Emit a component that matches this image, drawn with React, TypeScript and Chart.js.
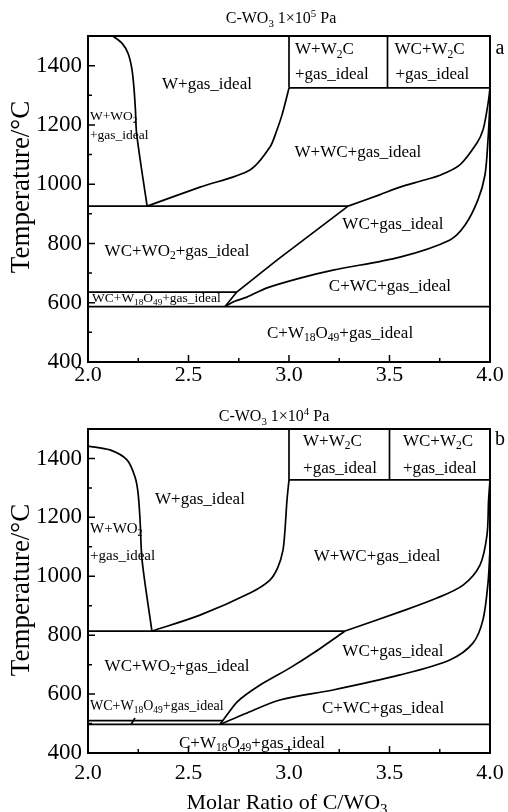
import React, { useEffect, useRef } from "react";
import { Chart, registerables } from "chart.js";
Chart.register(...registerables);

// ---------- axis ticks ----------
const X_TICKS = [2.0, 2.5, 3.0, 3.5, 4.0];
const X_MINOR = [2.25, 2.75, 3.25, 3.75];
const Y_TICKS = [400, 600, 800, 1000, 1200, 1400];
const Y_MINOR = [500, 700, 900, 1100, 1300];

// ---------- chart a (1x10^5 Pa) boundaries ----------
const A_WO2_X = [2.124, 2.17, 2.2, 2.218, 2.228, 2.236, 2.242, 2.294];
const A_WO2_T = [1500, 1475, 1440, 1390, 1330, 1250, 1170, 926];
const A_H926_X = [2.0, 3.294];
const A_H926_T = [926, 926];
const A_WGAS_X = [2.294, 2.557, 2.806, 2.905, 2.94, 2.965, 2.985, 3.0];
const A_WGAS_T = [926, 990, 1048, 1125, 1183, 1233, 1284, 1325];
const A_V30_X = [3.0, 3.0];
const A_V30_T = [1325, 1500];
const A_V35_X = [3.49, 3.49];
const A_V35_T = [1325, 1500];
const A_H1325_X = [3.0, 4.0];
const A_H1325_T = [1325, 1325];
const A_WWC_X = [3.294, 3.45, 3.552, 3.652, 3.751, 3.85, 3.935, 3.965, 3.985, 3.995, 4.0];
const A_WWC_T = [926, 964, 990, 1010, 1030, 1065, 1139, 1183, 1250, 1295, 1325];
const A_H587_X = [2.0, 4.0];
const A_H587_T = [587, 587];
const A_H636_X = [2.0, 2.74];
const A_H636_T = [636, 636];
const A_WCG_X = [2.682, 2.74, 2.94, 3.294];
const A_WCG_T = [587, 636, 744, 926];
const A_CWC_X = [2.682, 2.73, 2.791, 2.891, 3.055, 3.219, 3.552, 3.801, 3.876, 3.94, 3.975, 3.99, 3.998, 4.0];
const A_CWC_T = [587, 605, 619, 650, 683, 710, 754, 812, 862, 947, 1031, 1149, 1250, 1300];

// ---------- chart b (1x10^4 Pa) boundaries ----------
const B_WO2_X = [2.0, 2.109, 2.194, 2.234, 2.249, 2.259, 2.269, 2.318];
const B_WO2_T = [1442, 1429, 1395, 1337, 1283, 1191, 1055, 814];
const B_H814_X = [2.0, 3.279];
const B_H814_T = [814, 814];
const B_WGAS_X = [2.318, 2.557, 2.806, 2.905, 2.945, 2.97, 2.98, 2.99, 3.0];
const B_WGAS_T = [814, 868, 943, 987, 1031, 1089, 1157, 1259, 1327];
const B_V30_X = [3.0, 3.0];
const B_V30_T = [1327, 1500];
const B_V35_X = [3.5, 3.5];
const B_V35_T = [1327, 1500];
const B_H1327_X = [3.0, 4.0];
const B_H1327_T = [1327, 1327];
const B_WWC_X = [3.279, 3.552, 3.736, 3.866, 3.95, 3.985, 3.993, 4.0];
const B_WWC_T = [814, 879, 926, 970, 1038, 1140, 1259, 1327];
const B_H497_X = [2.0, 4.0];
const B_H497_T = [497, 497];
const B_H510_X = [2.0, 2.67];
const B_H510_T = [510, 510];
const B_WCG_X = [2.657, 2.741, 2.856, 3.005, 3.129, 3.279];
const B_WCG_T = [497, 573, 631, 689, 743, 814];
const B_CWC_X = [2.657, 2.791, 2.955, 3.219, 3.552, 3.8, 3.915, 3.965, 3.99, 4.0];
const B_CWC_T = [497, 536, 580, 614, 665, 716, 773, 852, 977, 1090];
const B_LEAD_X = [2.214, 2.234];
const B_LEAD_T = [497, 519];

// ---------- region labels ----------
type Lab = { t: string; x: number; y: number; a: "left" | "center"; s: number };
const A_LABELS: Lab[] = [
  { t: "W+gas_ideal", x: 2.592, y: 1341, a: "center", s: 17 },
  { t: "W+W_{2}C", x: 3.03, y: 1459, a: "left", s: 17 },
  { t: "+gas_ideal", x: 3.03, y: 1375, a: "left", s: 17 },
  { t: "WC+W_{2}C", x: 3.525, y: 1459, a: "left", s: 17 },
  { t: "+gas_ideal", x: 3.53, y: 1375, a: "left", s: 17 },
  { t: "W+WO_{2}", x: 2.01, y: 1230, a: "left", s: 13.5 },
  { t: "+gas_ideal", x: 2.01, y: 1166, a: "left", s: 13.5 },
  { t: "W+WC+gas_ideal", x: 3.343, y: 1109, a: "center", s: 17 },
  { t: "WC+gas_ideal", x: 3.517, y: 869, a: "center", s: 17 },
  { t: "WC+WO_{2}+gas_ideal", x: 2.443, y: 778, a: "center", s: 17 },
  { t: "C+WC+gas_ideal", x: 3.502, y: 660, a: "center", s: 17 },
  { t: "WC+W_{18}O_{49}+gas_ideal", x: 2.02, y: 616, a: "left", s: 13.5 },
  { t: "C+W_{18}O_{49}+gas_ideal", x: 3.254, y: 501, a: "center", s: 17 },
];
const B_LABELS: Lab[] = [
  { t: "W+gas_ideal", x: 2.557, y: 1266, a: "center", s: 17 },
  { t: "W+W_{2}C", x: 3.07, y: 1463, a: "left", s: 17 },
  { t: "+gas_ideal", x: 3.07, y: 1368, a: "left", s: 17 },
  { t: "WC+W_{2}C", x: 3.567, y: 1463, a: "left", s: 17 },
  { t: "+gas_ideal", x: 3.567, y: 1368, a: "left", s: 17 },
  { t: "W+WO_{2}", x: 2.01, y: 1164, a: "left", s: 15 },
  { t: "+gas_ideal", x: 2.01, y: 1072, a: "left", s: 15 },
  { t: "W+WC+gas_ideal", x: 3.438, y: 1072, a: "center", s: 17 },
  { t: "WC+gas_ideal", x: 3.517, y: 750, a: "center", s: 17 },
  { t: "WC+WO_{2}+gas_ideal", x: 2.443, y: 699, a: "center", s: 17 },
  { t: "C+WC+gas_ideal", x: 3.468, y: 556, a: "center", s: 17 },
  { t: "WC+W_{18}O_{49}+gas_ideal", x: 2.01, y: 563, a: "left", s: 14 },
  { t: "C+W_{18}O_{49}+gas_ideal", x: 2.816, y: 437, a: "center", s: 17 },
];

const Y_TITLE = "Temperature/°C";
const FAM = "'Liberation Serif', 'Times New Roman', serif";

type Line = { x: number[]; t: number[]; k: number };
type Spec = {
  lines: Line[];
  labels: Lab[];
  title: string;
  titleX: number;
  titleY: number;
  corner: string;
  cornerY: number;
  yTitleY: number;
  xTitle?: string;
  xTitleY?: number;
  padTop: number;
  xAxisH: number;
  xTickPad: number;
};

const SPEC_A: Spec = {
  lines: [
    { x: A_WO2_X, t: A_WO2_T, k: 0.3 },
    { x: A_H926_X, t: A_H926_T, k: 0 },
    { x: A_WGAS_X, t: A_WGAS_T, k: 0.3 },
    { x: A_V30_X, t: A_V30_T, k: 0 },
    { x: A_V35_X, t: A_V35_T, k: 0 },
    { x: A_H1325_X, t: A_H1325_T, k: 0 },
    { x: A_WWC_X, t: A_WWC_T, k: 0.3 },
    { x: A_H587_X, t: A_H587_T, k: 0 },
    { x: A_H636_X, t: A_H636_T, k: 0 },
    { x: A_WCG_X, t: A_WCG_T, k: 0 },
    { x: A_CWC_X, t: A_CWC_T, k: 0.3 },
  ],
  labels: A_LABELS,
  title: "C-WO_{3} 1×10^{5} Pa",
  titleX: 281,
  titleY: 18,
  corner: "a",
  cornerY: 47,
  yTitleY: 187,
  padTop: 36,
  xAxisH: 38,
  xTickPad: 0,
};

const SPEC_B: Spec = {
  lines: [
    { x: B_WO2_X, t: B_WO2_T, k: 0.3 },
    { x: B_H814_X, t: B_H814_T, k: 0 },
    { x: B_WGAS_X, t: B_WGAS_T, k: 0.3 },
    { x: B_V30_X, t: B_V30_T, k: 0 },
    { x: B_V35_X, t: B_V35_T, k: 0 },
    { x: B_H1327_X, t: B_H1327_T, k: 0 },
    { x: B_WWC_X, t: B_WWC_T, k: 0.3 },
    { x: B_H497_X, t: B_H497_T, k: 0 },
    { x: B_H510_X, t: B_H510_T, k: 0 },
    { x: B_WCG_X, t: B_WCG_T, k: 0.2 },
    { x: B_CWC_X, t: B_CWC_T, k: 0.3 },
    { x: B_LEAD_X, t: B_LEAD_T, k: 0 },
  ],
  labels: B_LABELS,
  title: "C-WO_{3} 1×10^{4} Pa",
  titleX: 274,
  titleY: 16,
  corner: "b",
  cornerY: 38,
  yTitleY: 190,
  xTitle: "Molar Ratio of C/WO_{3}",
  xTitleY: 402,
  padTop: 29,
  xAxisH: 59,
  xTickPad: 7,
};

function parseRich(s: string) {
  const out: { t: string; m: number }[] = [];
  let i = 0;
  let buf = "";
  while (i < s.length) {
    if ((s[i] === "_" || s[i] === "^") && s[i + 1] === "{") {
      if (buf) {
        out.push({ t: buf, m: 0 });
        buf = "";
      }
      const end = s.indexOf("}", i);
      out.push({ t: s.slice(i + 2, end), m: s[i] === "_" ? 1 : 2 });
      i = end + 1;
    } else {
      buf += s[i];
      i++;
    }
  }
  if (buf) out.push({ t: buf, m: 0 });
  return out;
}

function drawRich(ctx: CanvasRenderingContext2D, s: string, x: number, y: number, size: number, align: string) {
  const segs = parseRich(s);
  const fontFor = (m: number) => `${m ? size * 0.68 : size}px ${FAM}`;
  let w = 0;
  segs.forEach((sg) => {
    ctx.font = fontFor(sg.m);
    w += ctx.measureText(sg.t).width;
  });
  let cx = align === "center" ? x - w / 2 : align === "right" ? x - w : x;
  ctx.textAlign = "left";
  ctx.textBaseline = "alphabetic";
  ctx.fillStyle = "#000";
  const base = y + size * 0.33;
  segs.forEach((sg) => {
    ctx.font = fontFor(sg.m);
    const dy = sg.m === 1 ? size * 0.22 : sg.m === 2 ? -size * 0.38 : 0;
    ctx.fillText(sg.t, cx, base + dy);
    cx += ctx.measureText(sg.t).width;
  });
}

function decor(spec: Spec) {
  return {
    id: "decor" + spec.corner,
    afterDatasetsDraw(chart: any) {
      const ctx: CanvasRenderingContext2D = chart.ctx;
      const a = chart.chartArea;
      const xs = chart.scales.x;
      const ys = chart.scales.y;
      ctx.save();
      ctx.strokeStyle = "#000";
      ctx.lineWidth = 2;
      ctx.strokeRect(a.left, a.top, a.right - a.left, a.bottom - a.top);
      ctx.lineWidth = 1.5;
      ctx.beginPath();
      X_TICKS.forEach((v) => {
        const px = xs.getPixelForValue(v);
        ctx.moveTo(px, a.bottom);
        ctx.lineTo(px, a.bottom - 7);
      });
      X_MINOR.forEach((v) => {
        const px = xs.getPixelForValue(v);
        ctx.moveTo(px, a.bottom);
        ctx.lineTo(px, a.bottom - 4);
      });
      Y_TICKS.forEach((v) => {
        const py = ys.getPixelForValue(v);
        ctx.moveTo(a.left, py);
        ctx.lineTo(a.left + 7, py);
      });
      Y_MINOR.forEach((v) => {
        const py = ys.getPixelForValue(v);
        ctx.moveTo(a.left, py);
        ctx.lineTo(a.left + 4, py);
      });
      ctx.stroke();
      spec.labels.forEach((l) => {
        drawRich(ctx, l.t, xs.getPixelForValue(l.x), ys.getPixelForValue(l.y), l.s, l.a);
      });
      drawRich(ctx, spec.title, spec.titleX, spec.titleY, 16, "center");
      drawRich(ctx, spec.corner, 500, spec.cornerY, 20, "center");
      if (spec.xTitle) drawRich(ctx, spec.xTitle, 287, spec.xTitleY as number, 22, "center");
      // y-axis title
      ctx.save();
      ctx.translate(29, spec.yTitleY);
      ctx.rotate(-Math.PI / 2);
      ctx.font = `27px ${FAM}`;
      ctx.textAlign = "center";
      ctx.textBaseline = "alphabetic";
      ctx.fillStyle = "#000";
      ctx.fillText(Y_TITLE, 0, 0);
      ctx.restore();
      ctx.restore();
    },
  };
}

function PhaseChart({ spec, top, height }: { spec: Spec; top: number; height: number }) {
  const ref = useRef<HTMLCanvasElement>(null);
  useEffect(() => {
    const chart = new Chart(ref.current as HTMLCanvasElement, {
      type: "scatter",
      data: {
        datasets: spec.lines.map((l) => ({
          data: l.x.map((v, i) => ({ x: v, y: l.t[i] })),
          showLine: true,
          borderColor: "#000",
          borderWidth: 1.7,
          pointRadius: 0,
          pointHoverRadius: 0,
          tension: l.k,
          fill: false,
        })),
      },
      options: {
        responsive: false,
        animation: false,
        devicePixelRatio: 1,
        events: [],
        layout: { padding: { top: spec.padTop, right: 18, left: 0, bottom: 0 } },
        plugins: { legend: { display: false }, tooltip: { enabled: false }, title: { display: false } },
        scales: {
          x: {
            type: "linear",
            min: 2,
            max: 4,
            afterBuildTicks: (s: any) => {
              s.ticks = X_TICKS.map((v) => ({ value: v }));
            },
            afterFit: (s: any) => {
              s.height = spec.xAxisH;
              s.paddingLeft = 0;
              s.paddingRight = 0;
            },
            ticks: {
              callback: (v: any) => Number(v).toFixed(1),
              font: { family: "Liberation Serif", size: 22 },
              color: "#000",
              padding: spec.xTickPad,
              maxRotation: 0,
              autoSkip: false,
            },
            grid: { display: false, drawTicks: false },
            border: { display: false },
          },
          y: {
            type: "linear",
            min: 400,
            max: 1500,
            afterBuildTicks: (s: any) => {
              s.ticks = Y_TICKS.map((v) => ({ value: v }));
            },
            afterFit: (s: any) => {
              s.width = 88;
              s.paddingTop = 0;
              s.paddingBottom = 0;
            },
            ticks: {
              callback: (v: any) => String(v),
              font: { family: "Liberation Serif", size: 23 },
              color: "#000",
              padding: 6,
              autoSkip: false,
            },
            grid: { display: false, drawTicks: false },
            border: { display: false },
          },
        },
      },
      plugins: [decor(spec)],
    } as any);
    return () => chart.destroy();
  }, []);
  return (
    <canvas
      ref={ref}
      width={508}
      height={height}
      style={{ position: "absolute", left: 0, top, width: 508, height }}
    />
  );
}

export default function App() {
  return (
    <div style={{ position: "fixed", left: 0, top: 0, width: 508, height: 812, background: "#fff" }}>
      <PhaseChart spec={SPEC_A} top={0} height={400} />
      <PhaseChart spec={SPEC_B} top={400} height={412} />
    </div>
  );
}
